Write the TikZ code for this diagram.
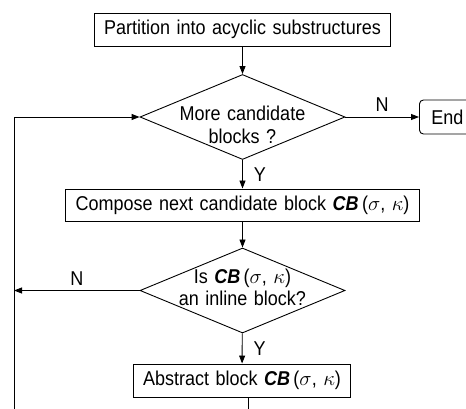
\documentclass[tikz,border=0pt]{standalone}
\usepackage{fontspec}
\setmainfont{Liberation Sans}[FakeStretch=0.9, WordSpace=1.3]
\usetikzlibrary{shapes.geometric,arrows.meta}

\tikzset{
    box/.style={draw, rectangle, minimum height=33pt, inner xsep=10pt},
    decision/.style={draw, diamond, aspect=2.4, minimum width=205pt, minimum height=85pt, inner sep=0pt},
    question/.style={align=center, inner sep=0pt},
    flow/.style={-{Triangle[length=8pt, width=6pt]}},
    yes/.style={right, xshift=11pt, inner sep=0pt},
    no/.style={above, yshift=5pt, inner sep=0pt}
}
\newcommand{\cbsk}{\textbf{\textit{CB}}\,($\sigma$, $\kappa$)}

\begin{document}
\begin{tikzpicture}[x=1pt, y=-1pt, line width=0.9pt, font=\fontsize{20}{22.5}\selectfont]
    \clip (0,0) rectangle (466,409);
    \node[box](part) at (242.5,29.5){Partition into acyclic substructures};
    \node[decision, label={[question, yshift=-8pt]center:More candidate\\blocks ?}](more) at (242.5,117){};
    \node[box, anchor=west, rounded corners=4pt, minimum height=34pt, inner xsep=12pt](end) at (419,117){End};
    \node[box, minimum height=32pt](compose) at (242.5,205){Compose next candidate block \cbsk};
    \node[decision, label={[question, yshift=3pt]center:Is \cbsk\\an inline block?}](inline) at (242.5,290.5){};
    \node[box](abstr) at (242,380.5){Abstract block \cbsk};
    \coordinate(loopbot) at (14,430);
    \coordinate(outbot) at (248,430);
    \draw[flow](part)--(more);
    \draw[flow](more)--node[no]{N}(end);
    \draw[flow](more)--node[yes]{Y}(compose);
    \draw[flow](compose)--(inline);
    \draw[flow](inline)--node[no]{N}(inline.west -| loopbot);
    \draw[flow](inline)--node[yes]{Y}(abstr);
    \draw(abstr.south -| outbot)--(outbot);
    \draw[flow](loopbot)|-(more.west);
\end{tikzpicture}
\end{document}
